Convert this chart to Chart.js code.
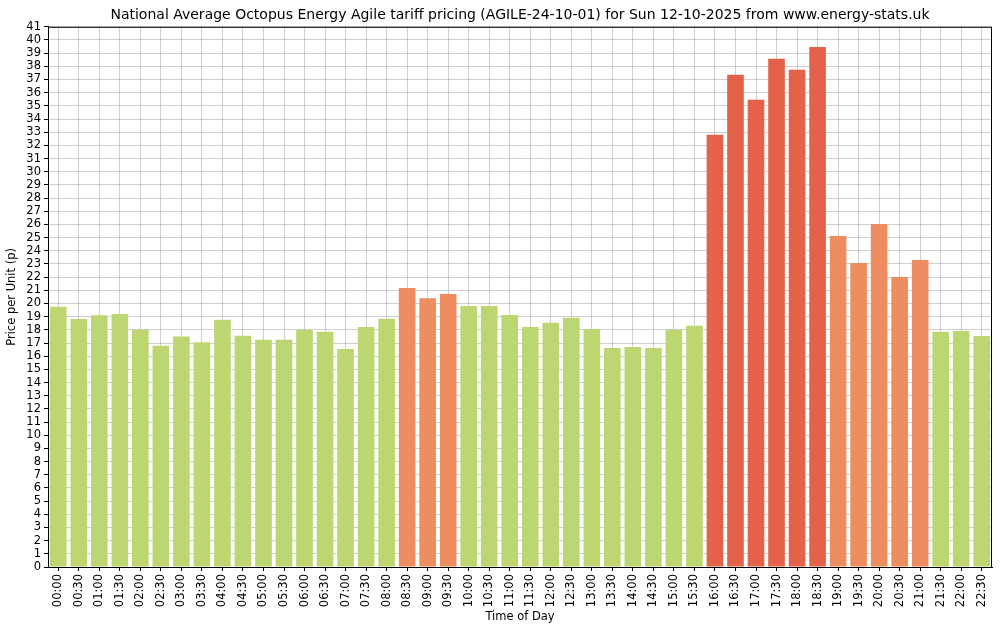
<!DOCTYPE html>
<html>
<head>
<meta charset="utf-8">
<title>Agile tariff pricing</title>
<script src="https://cdn.jsdelivr.net/npm/chart.js@4.4.1/dist/chart.umd.min.js"></script>
<style>
    html, body { margin: 0; padding: 0; background: #ffffff; }
    #wrap { width: 1000px; height: 633px; position: relative; }
</style>
</head>
<body>
<div id="wrap"><canvas id="agileChart"></canvas></div>
<script>
// Half-hour slots for the day
const timeLabels = [
    '00:00', '00:30', '01:00', '01:30', '02:00', '02:30', '03:00', '03:30',
    '04:00', '04:30', '05:00', '05:30', '06:00', '06:30', '07:00', '07:30',
    '08:00', '08:30', '09:00', '09:30', '10:00', '10:30', '11:00', '11:30',
    '12:00', '12:30', '13:00', '13:30', '14:00', '14:30', '15:00', '15:30',
    '16:00', '16:30', '17:00', '17:30', '18:00', '18:30', '19:00', '19:30',
    '20:00', '20:30', '21:00', '21:30', '22:00', '22:30'
];

// Price per unit (p)
const prices = [
    19.76, 18.82, 19.10, 19.20, 18.01, 16.79, 17.50, 17.05,
    18.77, 17.55, 17.25, 17.25, 18.00, 17.86, 16.54, 18.21,
    18.85, 21.18, 20.39, 20.72, 19.81, 19.81, 19.13, 18.21,
    18.54, 18.92, 18.06, 16.62, 16.69, 16.62, 18.01, 18.31,
    32.80, 37.36, 35.46, 38.58, 37.74, 39.47, 25.13, 23.08,
    26.04, 22.01, 23.30, 17.86, 17.91, 17.53
];

// Price bands -> bar colour
const bandLimits = [20, 30];
const bandColours = ['#bcd672', '#ee8d5f', '#e4614a'];

const yMax = 41;

function colourFor(v) {
    if (v >= bandLimits[1]) return bandColours[2];
    if (v >= bandLimits[0]) return bandColours[1];
    return bandColours[0];
}

// Draws the full box (top and right spines) like the original plot
const frameBox = {
    id: 'frameBox',
    afterDraw(chart) {
        const { ctx, chartArea: a } = chart;
        ctx.save();
        ctx.strokeStyle = '#000';
        ctx.lineWidth = 1;
        ctx.strokeRect(a.left + 0.5, a.top + 0.5, a.right - a.left - 1, a.bottom - a.top);
        ctx.restore();
    }
};

const fontFamily = '"DejaVu Sans", sans-serif';
const gridColour = 'rgba(160,160,160,0.5)';
const ctx = document.getElementById('agileChart').getContext('2d');

new Chart(ctx, {
    type: 'bar',
    data: {
        labels: timeLabels,
        datasets: [{
            label: 'Price per Unit (p)',
            data: prices,
            backgroundColor: prices.map(colourFor),
            borderWidth: 0,
            categoryPercentage: 1.0,
            barPercentage: 0.81
        }]
    },
    options: {
        responsive: true,
        maintainAspectRatio: false,
        animation: false,
        devicePixelRatio: 1,
        layout: { padding: { left: 0, right: 8, top: 0, bottom: 0 } },
        plugins: {
            legend: { display: false },
            tooltip: { enabled: false },
            title: {
                display: true,
                fullSize: false, // centre over the plot area, not the canvas
                text: 'National Average Octopus Energy Agile tariff pricing (AGILE-24-10-01) for Sun 12-10-2025 from www.energy-stats.uk',
                color: '#000',
                font: { family: fontFamily, size: 14, weight: 'normal', lineHeight: 1.2 },
                padding: { top: 7, bottom: 3 }
            }
        },
        scales: {
            x: {
                offset: true,
                grid: {
                    offset: false,
                    color: gridColour,
                    tickColor: '#000',
                    tickLength: 4
                },
                border: { color: '#000', width: 1 },
                ticks: {
                    color: '#000',
                    autoSkip: false,
                    minRotation: 90,
                    maxRotation: 90,
                    padding: 3,
                    font: { family: fontFamily, size: 11.5 }
                },
                title: {
                    display: true,
                    text: 'Time of Day',
                    color: '#000',
                    font: { family: fontFamily, size: 11.5 },
                    padding: { top: 2, bottom: 9 }
                },
                afterFit(scale) { scale.height = 66; }
            },
            y: {
                min: 0,
                max: yMax,
                grid: {
                    color: gridColour,
                    tickColor: '#000',
                    tickLength: 4
                },
                border: { color: '#000', width: 1 },
                ticks: {
                    stepSize: 1,
                    autoSkip: false,
                    color: '#000',
                    padding: 3,
                    font: { family: fontFamily, size: 11.5 }
                },
                title: {
                    display: true,
                    text: 'Price per Unit (p)',
                    color: '#000',
                    font: { family: fontFamily, size: 11.5 },
                    padding: { top: 5, bottom: 2 }
                },
                afterFit(scale) { scale.width = 48; }
            }
        }
    },
    plugins: [frameBox]
});
</script>
</body>
</html>
